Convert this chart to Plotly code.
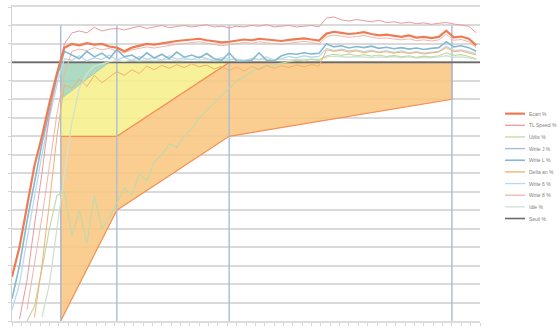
import plotly.graph_objects as go

# ---- time axis (weeks) -------------------------------------------------
WEEK = list(range(0, 249, 4))

# ---- tracked series (% of target) ---------------------------------------
ECART = [42, 50, 61, 72, 80, 89, 97, 104, 105, 104.6,
         105.2, 104.8, 105, 104.3, 104, 103, 104, 104.6, 105, 104.8,
         105.2, 105.4, 105.8, 106, 106.2, 106.4, 106, 105.6, 105.4, 105.6,
         106, 106.2, 106, 106.4, 106.2, 106, 105.8, 106.1, 106.3, 106.5,
         106.2, 105.9, 107.8, 108.3, 108, 107.7, 107.9, 108.2, 107.7, 107.3,
         107.5, 107.1, 106.9, 107.3, 106.7, 106.9, 106.6, 106.9, 108.6, 106.8,
         107, 106.4, 104.6]
TL_SPEED = [None, 30.5, 41, 56, 70, 86, 97, 105, 108, 108.5,
            108, 109.5, 108.5, 109, 109.2, 108.8, 109.4, 109.8, 109.2, 109.6,
            110, 109.4, 109.8, 110, 109.6, 109.8, 110.2, 109.6, 109.8, 109.4,
            109.8, 109.6, 110, 109.8, 110.2, 109.6, 109.8, 110, 109.6, 109.8,
            110, 109.6, 112, 112.3, 111.5, 111.2, 111.6, 111.3, 111, 111.4,
            110.8, 111, 110.6, 110.9, 110.5, 110.7, 110.3, 110.6, 110.8, 110.4,
            110.2, 109.8, 108]
UTILIS = [None, None, 30, 34, 44, 55, 64, 65, 53, 60,
          51, 64, 55, 58, 62, 66, 64, 70, 68, 73,
          75, 78, 77, 80, 82, 85, 87, 89, 91, 93,
          95, 96, 97.5, 98.5, 99, 99.5, 99.8, 100.2, 100.6, 100.4,
          100.8, 100.5, 101.8, 102.2, 101.9, 102.3, 101.8, 102.1, 101.7, 102,
          101.6, 101.9, 101.5, 101.8, 101.4, 101.7, 101.5, 101.8, 102.6, 101.9,
          102.1, 101.6, 101]
WRITE_L = [36, 45, 57, 68, 78, 87, 96, 103, 102, 101,
           103, 101.5, 102.5, 101, 103.5, 101.5, 102, 100.8, 102.6, 101.2,
           102.2, 101, 102.8, 101.4, 102, 101.2, 102.4, 101, 100.6, 102.6,
           100.4, 100.3, 100.5, 102.6, 100.6, 100.4, 101.8, 102.4, 102.2, 102.6,
           102.3, 102.5, 105, 104.2, 104.5, 103.9, 104.3, 104, 104.4, 103.8,
           104.1, 103.7, 104, 103.6, 103.9, 103.5, 103.8, 104, 105.6, 104.2,
           104.5, 104, 103]
DELTA_AN = [None, None, None, 31, 45, 62, 80, 94, 93, 95.5,
            93.5, 96.5, 94.5, 96, 97.5, 96.5, 98, 97, 99, 98,
            99.2, 98.4, 99.4, 98.6, 99.6, 98.8, 99.3, 98.2, 99, 97.8,
            98.8, 97.6, 98.9, 98, 99.2, 98.4, 99.1, 98.6, 99.3, 98.8,
            99.4, 99, 103.4, 103, 103.3, 102.8, 103.1, 102.6, 103, 102.7,
            102.9, 102.5, 102.8, 102.4, 102.7, 102.3, 102.6, 102.8, 104, 102.9,
            103.1, 102.6, 102]
WRITE_6 = [33, 40, 52, 64, 75, 85, 94, 101, 100.6, 101.8,
           100.4, 101.2, 100.8, 102, 100.6, 101.4, 100.5, 101.6, 100.9, 101.3,
           100.6, 101.8, 100.9, 101.2, 100.7, 101.6, 101, 100.5, 101.3, 100.8,
           100.9, 100.4, 101.1, 100.8, 101.5, 100.7, 101, 101.6, 101.2, 101.8,
           101.4, 101.6, 103.8, 103.2, 103.6, 103.1, 103.4, 102.9, 103.3, 102.8,
           103.2, 102.7, 103.1, 102.6, 102.9, 102.5, 102.8, 103, 104.4, 103.2,
           103.4, 103, 102.4]
WRITE_8 = [None, None, 33, 45, 58, 72, 86, 97, 103, 103.6,
           103.2, 104, 103.4, 103.8, 103, 102.6, 103.4, 103.8, 104.2, 103.9,
           104.3, 104.6, 104.9, 105.1, 105.4, 105.6, 105.2, 104.8, 104.5, 104.8,
           105.1, 105.4, 105.2, 105.6, 105.3, 105.1, 104.9, 105.2, 105.5, 105.7,
           105.4, 105, 106.9, 107.4, 107.1, 106.8, 107, 107.3, 106.8, 106.5,
           106.6, 106.3, 106.1, 106.4, 105.9, 106.1, 105.8, 106.1, 107.6, 106,
           106.2, 105.6, 104]
IDLE = [None, None, None, None, 31, 40, 55, 70, 84, 93,
        97, 99, 99.6, 100.2, 100.5, 100.3, 100.6, 100.4, 100.7, 100.5,
        100.6, 100.8, 100.5, 100.7, 100.9, 100.6, 100.8, 100.5, 100.7, 100.6,
        100.8, 100.6, 100.9, 100.7, 100.8, 100.6, 100.9, 100.7, 100.8, 101,
        100.9, 100.8, 101.5, 101.7, 101.6, 101.4, 101.6, 101.5, 101.3, 101.5,
        101.4, 101.6, 101.3, 101.5, 101.2, 101.4, 101.3, 101.5, 101.8, 101.4,
        101.5, 101.2, 100.8]

# ---- milestones and threshold -------------------------------------------
MILESTONE_WEEKS = [26, 56, 116, 235]
MILESTONE_SPAN = [30, 110]
THRESHOLD = 100
THRESHOLD_WEEKS = [0, 250]

# ---- tolerance fan ------------------------------------------------------
FAN_LOW_WEEKS = [26, 56, 116, 235]
FAN_LOW = [30, 60, 80, 90]
BAND_WEEKS = [26, 56, 116]
BAND = [80, 80, 100]
EARLY_WEEKS = [26, 52]
EARLY = [90, 100]

NAMES = ["Ecart %", "TL Speed %", "Utilis %", "Write J %", "Write L %",
         "Delta an %", "Write 6 %", "Write 8 %", "Idle %", "Seuil %"]
COLORS = ["#ef7b55", "#e99aa0", "#c3d9a8", "#a9bcd8", "#86b9cf",
          "#f5b06c", "#bdd8ea", "#f1b5a8", "#cfe2d0", "#6a6a6a"]
WIDTHS = [2.2, 1, 1.2, 1.4, 1.6, 1, 1.3, 1, 1.3, 1.6]

fig = go.Figure()

# fan areas (drawn first, under the series)
early_x = [EARLY_WEEKS[0]] + EARLY_WEEKS + [EARLY_WEEKS[0]]
early_y = [EARLY[0], THRESHOLD, EARLY[1], EARLY[0]]
fig.add_trace(go.Scatter(x=early_x, y=early_y, fill="toself",
                         fillcolor="rgba(160,212,182,0.85)", mode="lines",
                         line=dict(color="#8cc7a0", width=1),
                         hoverinfo="skip", showlegend=False))

yel_x = [BAND_WEEKS[0], EARLY_WEEKS[0], EARLY_WEEKS[1]] + BAND_WEEKS[::-1]
yel_y = [BAND[0], EARLY[0], EARLY[1]] + BAND[::-1]
fig.add_trace(go.Scatter(x=yel_x, y=yel_y, fill="toself",
                         fillcolor="rgba(246,238,135,0.85)", mode="lines",
                         line=dict(width=0),
                         hoverinfo="skip", showlegend=False))

org_x = [FAN_LOW_WEEKS[0]] + BAND_WEEKS + [FAN_LOW_WEEKS[-1]] + FAN_LOW_WEEKS[::-1]
org_y = [FAN_LOW[0]] + BAND + [THRESHOLD] + FAN_LOW[::-1]
fig.add_trace(go.Scatter(x=org_x, y=org_y, fill="toself",
                         fillcolor="rgba(248,198,124,0.85)", mode="lines",
                         line=dict(color="#f39052", width=1.2),
                         hoverinfo="skip", showlegend=False))

# milestone verticals
mx, my = [], []
for w in MILESTONE_WEEKS:
    mx += [w, w, None]
    my += [MILESTONE_SPAN[0], MILESTONE_SPAN[1], None]

series = [ECART, TL_SPEED, UTILIS, None, WRITE_L, DELTA_AN, WRITE_6, WRITE_8, IDLE, None]
draw_order = [8, 6, 2, 5, 7, 4, 1, 0]

fig.add_trace(go.Scatter(x=mx, y=my, mode="lines", name=NAMES[3],
                         line=dict(color=COLORS[3], width=WIDTHS[3]),
                         showlegend=False))
fig.add_trace(go.Scatter(x=THRESHOLD_WEEKS, y=[THRESHOLD, THRESHOLD], mode="lines",
                         name=NAMES[9], line=dict(color=COLORS[9], width=WIDTHS[9]),
                         showlegend=False))
for k in draw_order:
    fig.add_trace(go.Scatter(x=WEEK, y=series[k], mode="lines", name=NAMES[k],
                             line=dict(color=COLORS[k], width=WIDTHS[k]),
                             connectgaps=False, showlegend=False))

# key on the right
PLOT_L, PLOT_R, PLOT_T, PLOT_B = 12, 480, 5, 323
pw, ph = PLOT_R - PLOT_L, PLOT_B - PLOT_T
key_top, key_step = 113, 11.8
for k, name in enumerate(NAMES):
    py = key_top + k * key_step
    yp = (PLOT_B - py) / ph
    fig.add_shape(type="line", xref="paper", yref="paper",
                  x0=(505 - PLOT_L) / pw, x1=(525 - PLOT_L) / pw, y0=yp, y1=yp,
                  line=dict(color=COLORS[k], width=max(WIDTHS[k], 1.3)))
    fig.add_annotation(xref="paper", yref="paper", x=(527 - PLOT_L) / pw, y=yp,
                       text=name, showarrow=False, xanchor="left", yanchor="middle",
                       font=dict(size=5, color="#808080", family="Liberation Sans"))

fig.update_layout(
    width=560, height=329,
    margin=dict(l=PLOT_L, r=560 - PLOT_R, t=PLOT_T, b=329 - PLOT_B),
    paper_bgcolor="white", plot_bgcolor="white",
    showlegend=False,
    xaxis=dict(range=[0, 250], showgrid=False, zeroline=False,
               showticklabels=False, ticks="outside", ticklen=3, dtick=5,
               tickcolor="#d4d4d4", showline=True, mirror=True,
               linecolor="#dcdcdc", linewidth=1.5),
    yaxis=dict(range=[30, 115], dtick=5, tick0=30, showgrid=True,
               gridcolor="#dadada", gridwidth=1.5, zeroline=False,
               showticklabels=False, ticks="outside", ticklen=3,
               tickcolor="#d4d4d4", showline=True, linecolor="#d2d2d2", linewidth=1),
)

fig.write_html("out.html")
